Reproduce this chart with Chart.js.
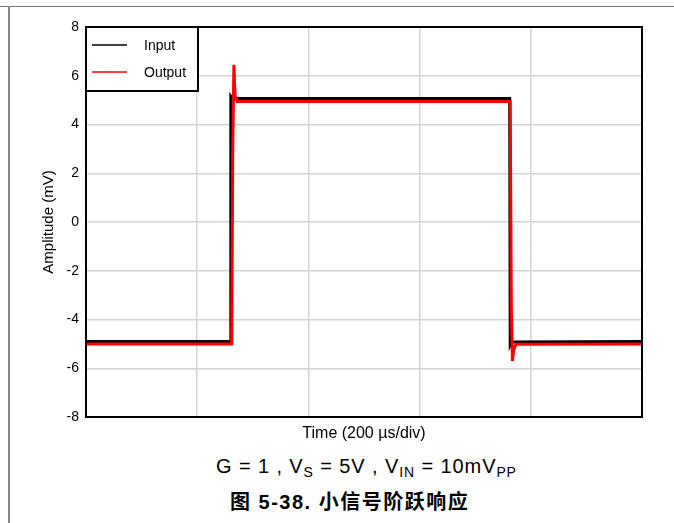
<!DOCTYPE html>
<html>
<head>
<meta charset="utf-8">
<script src="https://cdn.jsdelivr.net/npm/chart.js@4"></script>
<style>
  body { margin: 0; background: #fff; }
  #wrap { position: relative; width: 674px; height: 523px; overflow: hidden; font-family: "Liberation Sans", Arial, sans-serif; }
  #c { position: absolute; left: 0; top: 0; }
  .topline { position: absolute; left: 0; top: 6px; width: 674px; height: 0; border-top: 1.5px solid #777; }
  .leftline { position: absolute; left: 8px; top: 6px; width: 0; height: 517px; border-left: 2px solid #888; }
  .cond { position: absolute; left: 216px; top: 455px; white-space: nowrap; font-size: 20px; line-height: 22px; letter-spacing: 0.9px; color: #000; }
  .cond sub { font-size: 14px; vertical-align: -4px; line-height: 0; }
  .fig { position: absolute; left: 230px; top: 491px; white-space: nowrap; font-size: 20px; line-height: 22px; letter-spacing: 1.5px; font-weight: bold; color: #000; font-family: "Liberation Sans", "Noto Sans CJK SC", sans-serif; }
</style>
</head>
<body>
<div id="wrap">
  <div class="topline"></div>
  <div class="leftline"></div>
  <canvas id="c" width="674" height="445"></canvas>
  <div class="cond">G = 1 , V<sub>S</sub> = 5V , V<sub>IN</sub> = 10mV<sub>PP</sub></div>
  <div class="fig">图 5-38. 小信号阶跃响应</div>
</div>
<script>
// time in µs (200 µs/div, 5 div), amplitude in mV
var inputTime = [0, 260, 260.5, 263, 762, 763, 766, 1000];
var inputAmp  = [-4.9, -4.9, 5.15, 5.07, 5.07, -5.05, -4.92, -4.9];

var outputTime = [0, 262, 264, 266, 268, 272, 763, 765, 767, 769, 773, 1000];
var outputAmp  = [-5.0, -5.0, 3.0, 6.45, 5.2, 4.94, 4.94, -3.5, -5.7, -5.3, -5.02, -5.0];

var yTicks = [-8, -6, -4, -2, 0, 2, 4, 6, 8];
var seriesNames = ['Input', 'Output'];
var seriesColors = ['#000000', '#ff0000'];

function toPoints(xs, ys) {
    var pts = [];
    for (var i = 0; i < xs.length; i++) {
        pts.push({x: xs[i], y: ys[i]});
    }
    return pts;
}

// frame around plot area + legend box in the top left corner
var framePlugin = {
    id: 'frame',
    afterDraw: function (chart) {
        var ctx = chart.ctx;
        var a = chart.chartArea;
        ctx.save();
        ctx.strokeStyle = '#000';
        ctx.lineWidth = 2;
        ctx.strokeRect(a.left, a.top, a.right - a.left, a.bottom - a.top);

        var bx = a.left, by = a.top, bw = 112, bh = 64;
        ctx.fillStyle = '#fff';
        ctx.fillRect(bx, by, bw, bh);
        ctx.strokeRect(bx, by, bw, bh);
        ctx.font = '14px "Liberation Sans", Arial, sans-serif';
        ctx.textBaseline = 'middle';
        for (var i = 0; i < seriesNames.length; i++) {
            var ly = by + 18 + i * 27;
            ctx.strokeStyle = seriesColors[i];
            ctx.lineWidth = 1.5;
            ctx.beginPath();
            ctx.moveTo(bx + 6, ly);
            ctx.lineTo(bx + 41, ly);
            ctx.stroke();
            ctx.fillStyle = '#000';
            ctx.fillText(seriesNames[i], bx + 58, ly + 1);
        }
        ctx.restore();
    }
};

var ctx = document.getElementById('c').getContext('2d');
var chart = new Chart(ctx, {
    type: 'line',
    data: {
        datasets: [
            {
                label: seriesNames[0],
                data: toPoints(inputTime, inputAmp),
                borderColor: seriesColors[0],
                borderWidth: 3,
                pointRadius: 0,
                tension: 0,
                order: 2
            },
            {
                label: seriesNames[1],
                data: toPoints(outputTime, outputAmp),
                borderColor: seriesColors[1],
                borderWidth: 3,
                pointRadius: 0,
                tension: 0,
                order: 1
            }
        ]
    },
    options: {
        responsive: false,
        animation: false,
        layout: { padding: { top: 27, right: 32, left: 0, bottom: 0 } },
        plugins: {
            legend: { display: false },
            tooltip: { enabled: false }
        },
        scales: {
            x: {
                type: 'linear',
                min: 0,
                max: 1000,
                ticks: { display: false, stepSize: 200 },
                grid: { color: '#d4d4d4', lineWidth: 1.5, drawTicks: false },
                border: { display: false },
                title: {
                    display: true,
                    text: 'Time (200 µs/div)',
                    color: '#000',
                    font: { family: '"Liberation Sans", Arial, sans-serif', size: 16 },
                    padding: { top: 0, bottom: 2 }
                },
                afterFit: function (s) { s.height = 28; }
            },
            y: {
                min: -8,
                max: 8,
                afterBuildTicks: function (s) {
                    s.ticks = yTicks.map(function (v) { return {value: v}; });
                },
                ticks: {
                    color: '#000',
                    padding: 7,
                    font: { family: '"Liberation Sans", Arial, sans-serif', size: 14 }
                },
                grid: { color: '#d4d4d4', lineWidth: 1.5, drawTicks: false },
                border: { display: false },
                title: {
                    display: true,
                    text: 'Amplitude (mV)',
                    color: '#000',
                    font: { family: '"Liberation Sans", Arial, sans-serif', size: 15 },
                    padding: { top: 40, bottom: 0 }
                },
                afterFit: function (s) { s.width = 86; }
            }
        }
    },
    plugins: [framePlugin]
});
</script>
</body>
</html>
